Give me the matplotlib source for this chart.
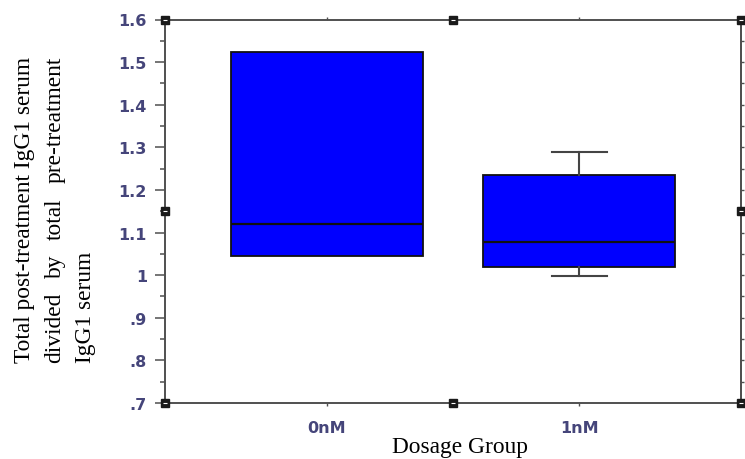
import matplotlib
matplotlib.use("Agg")
import matplotlib.pyplot as plt
import numpy as np

# data
groups = ["0nM", "1nM"]
q1 = [1.045, 1.020]
median = [1.120, 1.078]
q3 = [1.524, 1.234]
whisker_low = [1.045, 0.998]
whisker_high = [1.524, 1.290]

ytick_vals = [0.7, 0.8, 0.9, 1.0, 1.1, 1.2, 1.3, 1.4, 1.5, 1.6]
ytick_labels = [".7", ".8", ".9", "1", "1.1", "1.2", "1.3", "1.4", "1.5", "1.6"]

tick_color = "#45457a"
spine_color = "#505050"
tick_font = dict(fontfamily="DejaVu Sans", fontsize=11.5, fontweight="bold", color=tick_color)

fig = plt.figure(figsize=(7.45, 4.6), dpi=100)
ax = fig.add_axes([165 / 745, 56 / 460, 576 / 745, 383.5 / 460])

stats = []
for i, g in enumerate(groups):
    stats.append({"label": g, "q1": q1[i], "med": median[i], "q3": q3[i],
                  "whislo": whisker_low[i], "whishi": whisker_high[i], "fliers": []})

positions = np.arange(1, len(groups) + 1)
parts = ax.bxp(stats, positions=positions, widths=0.76, capwidths=0.22, patch_artist=True,
               showfliers=False,
               boxprops=dict(facecolor="#0000ff", edgecolor="#111111", linewidth=1.3),
               medianprops=dict(color="#111111", linewidth=1.6),
               whiskerprops=dict(color="#444444", linewidth=1.5),
               capprops=dict(color="#444444", linewidth=1.5))

# whiskers that sit on the box edge are not shown in the reference
for i in range(len(groups)):
    if whisker_low[i] == q1[i]:
        parts["caps"][2 * i].set_visible(False)
        parts["whiskers"][2 * i].set_visible(False)
    if whisker_high[i] == q3[i]:
        parts["caps"][2 * i + 1].set_visible(False)
        parts["whiskers"][2 * i + 1].set_visible(False)

ax.set_xlim(0.36, 2.64)
ax.set_ylim(0.7, 1.6)

# x ticks
ax.set_xticks(positions)
ax.set_xticklabels(groups, **tick_font)
ax.tick_params(axis="x", which="major", top=True, direction="out", length=2.5,
               width=1, color=spine_color, pad=10)

# y ticks
ax.set_yticks(ytick_vals)
ax.set_yticklabels(ytick_labels, **tick_font)
ax.set_yticks(np.arange(0.75, 1.6, 0.1), minor=True)
ax.tick_params(axis="y", which="major", direction="out", length=7, width=1.1,
               color=spine_color, pad=6)
ax.tick_params(axis="y", which="minor", direction="out", length=3.6, width=1.1,
               color=spine_color)

# right side: small ticks every 0.05, no labels
sec = ax.secondary_yaxis("right")
sec.set_yticks(np.arange(0.7, 1.601, 0.05))
sec.set_yticklabels([])
sec.tick_params(direction="out", length=2.5, width=1, color=spine_color)
sec.spines["right"].set_color(spine_color)
sec.spines["right"].set_linewidth(1.4)

for s in ax.spines.values():
    s.set_color(spine_color)
    s.set_linewidth(1.4)

# little square handles at corners and mid points of the frame
hx = [0, 0, 0, 0.5, 0.5, 1, 1, 1]
hy = [0, 0.5, 1, 0, 1, 0, 0.5, 1]
ax.plot(hx, hy, linestyle="none", marker="s", markersize=5.5, color="#1a1a1a",
        transform=ax.transAxes, clip_on=False, zorder=5)
ax.plot(hx, hy, linestyle="none", marker="_", markersize=3, markeredgewidth=0.8,
        color="white", transform=ax.transAxes, clip_on=False, zorder=6)

# axis titles in serif, placed like the reference
serif = dict(fontfamily="Liberation Serif", fontsize=16.8, color="black")
fig.text(460 / 745, 7 / 460, "Dosage Group", ha="center", va="baseline", **serif)

y0 = (460 - 363) / 460
line1 = fig.text(25 / 745, y0, "Total post-treatment IgG1 serum", rotation=90,
                 ha="center", va="bottom", **serif)
fig.text(85 / 745, y0, "IgG1 serum", rotation=90, ha="center", va="bottom", **serif)

# second line is justified to the length of the first one
renderer = fig.canvas.get_renderer()
full_h = line1.get_window_extent(renderer).height
words = ["divided", "by", "total", "pre-treatment"]
word_texts = [fig.text(55 / 745, y0, w, rotation=90, ha="center", va="bottom", **serif)
              for w in words]
heights = [t.get_window_extent(renderer).height for t in word_texts]
gap = (full_h - sum(heights)) / (len(words) - 1)
y_px = y0 * fig.bbox.height
for t, h in zip(word_texts, heights):
    t.set_y(y_px / fig.bbox.height)
    y_px += h + gap

fig.savefig("out.png", dpi=100)
